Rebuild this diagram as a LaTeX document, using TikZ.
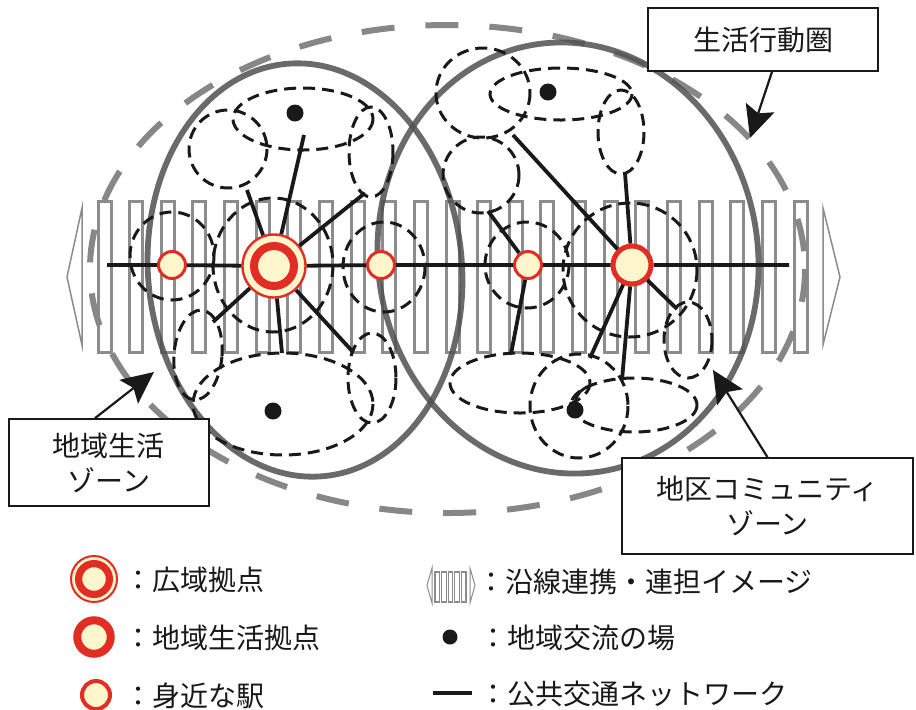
\documentclass[tikz,border=0pt]{standalone}
\usepackage{fontspec}
\setmainfont{Noto Sans CJK JP}
\usetikzlibrary{arrows.meta}
\definecolor{hubred}{RGB}{225,45,35}
\definecolor{cream}{RGB}{255,246,205}
\definecolor{bargray}{RGB}{140,140,140}
\definecolor{zonegray}{RGB}{80,80,80}
\definecolor{spheregray}{RGB}{135,135,135}
\definecolor{ink}{RGB}{25,25,25}

\begin{document}
\begin{tikzpicture}[x=0.5pt, y=-0.5pt,
        every node/.style={font=\fontsize{14pt}{17.5pt}\selectfont, text=ink, inner sep=0pt},
        station/.style={circle, draw=hubred, fill=cream, line width=1.5pt, minimum size=13.5pt},
        localhub/.style={circle, draw=hubred, fill=cream, line width=2.5pt, minimum size=19pt},
        widehub/.style n args={3}{circle, draw=hubred, fill=cream, line width=1.2pt, minimum size=#1,
            path picture={\draw[hubred, line width=#3] (path picture bounding box.center) circle (#2);}},
        spot/.style={circle, fill=ink, minimum size=8.5pt},
        reach/.style={draw=ink, line width=1.5pt, dash pattern=on 6pt off 3.5pt},
        zone/.style={draw=zonegray, draw opacity=0.85, line width=2.9pt},
        sphere/.style={draw=spheregray, line width=3pt, dash pattern=on 16.5pt off 15.5pt},
        net/.style={draw=ink, line width=1.9pt},
        bar/.style={draw=bargray, line width=1.5pt},
        callout/.style={draw=ink, line width=0.8pt, fill=white, align=center},
        pointer/.style={draw=ink, line width=1.1pt, -{Stealth[length=16pt, width=15pt, inset=3pt]}},
        key/.style={anchor=west}
    ]
    \useasboundingbox (0,0) rectangle (916,709);

    % corridor
    \foreach \i in {0,...,22}
        \draw[bar] ({98+31.64*\i},201.5) rectangle ++(13,151);
    \draw[bar, line width=0.75pt] (82,208) -- (67,277) -- (82,345) -- cycle;
    \draw[bar, line width=0.75pt] (823,208) -- (840,277) -- (823,345) -- cycle;

    % zones
    \draw[sphere] (447.5,269) ellipse [x radius=357.5, y radius=244];
    \draw[zone, rotate around={5:(305,270)}] (305,270) ellipse [x radius=157, y radius=207];
    \draw[zone, rotate around={8:(568,258)}] (568,258) ellipse [x radius=190, y radius=216];

    % reach of each place
    \draw[reach] (172,256) ellipse [x radius=42, y radius=44];
    \draw[reach] (273,265) ellipse [x radius=60, y radius=67];
    \draw[reach] (384,267) ellipse [x radius=41, y radius=45];
    \draw[reach] (228,149) ellipse [x radius=39, y radius=39];
    \draw[reach] (303,119) ellipse [x radius=70, y radius=31];
    \draw[reach] (371,152) ellipse [x radius=22, y radius=45];
    \draw[reach, rotate around={-5:(198,355)}] (198,355) ellipse [x radius=24, y radius=45];
    \draw[reach] (283,404) ellipse [x radius=90, y radius=51];
    \draw[reach] (372,378) ellipse [x radius=24, y radius=45];
    \draw[reach] (483,93) ellipse [x radius=47, y radius=45];
    \draw[reach] (481,175) ellipse [x radius=38, y radius=38];
    \draw[reach] (561,94) ellipse [x radius=71, y radius=26];
    \draw[reach] (621,132) ellipse [x radius=23, y radius=42];
    \draw[reach] (527,265) ellipse [x radius=42, y radius=43];
    \draw[reach] (630,270) ellipse [x radius=67, y radius=67];
    \draw[reach] (688,340) ellipse [x radius=24, y radius=38];
    \draw[reach] (520,383) ellipse [x radius=70, y radius=30];
    \draw[reach] (579,406) ellipse [x radius=49, y radius=52];
    \draw[reach] (634,405) ellipse [x radius=63, y radius=27];

    \node[station] at (172,265) (stA) {};
    \node[widehub={31.5pt}{10pt}{4pt}] at (274,266) (wide) {};
    \node[station] at (381,265) (stB) {};
    \node[station] at (528,265) (stC) {};
    \node[localhub] at (632,265) (local) {};

    \node[spot] at (295,113) (spotNW) {};
    \node[spot] at (548,92) (spotNE) {};
    \node[spot] at (273,411) (spotSW) {};
    \node[spot] at (575,410) (spotSE) {};

    \coordinate (railW) at (107,265);
    \coordinate (railE) at (789,265);
    \coordinate (w1) at (247,190);
    \coordinate (w2) at (304,135);
    \coordinate (w3) at (365,193);
    \coordinate (w4) at (213,322);
    \coordinate (w5) at (282,353);
    \coordinate (w6) at (353,352);
    \coordinate (e1) at (488,211);
    \coordinate (e2) at (513,135);
    \coordinate (e3) at (625,173);
    \coordinate (e4) at (677,309);
    \coordinate (e5) at (511,354);
    \coordinate (e6) at (590,358);
    \coordinate (e7) at (622,380);
    \coordinate (e8) at (590,386);

    \draw[net] (railW) -- (stA) -- (wide) -- (stB) -- (stC) -- (local) -- (railE);
    \draw[net] (wide) -- (w1);
    \draw[net] (wide) -- (w2);
    \draw[net] (wide) -- (w3);
    \draw[net] (wide) -- (w4);
    \draw[net] (wide) -- (w5);
    \draw[net] (wide) -- (w6);
    \draw[net] (e1) -- (stC);
    \draw[net] (e2) -- (local);
    \draw[net] (e3) -- (local);
    \draw[net] (local) -- (e4);
    \draw[net] (stC) -- (e5);
    \draw[net] (local) -- (e6);
    \draw[net] (local) -- (e7);
    \draw[net, line width=1.4pt] (spotSE) to[bend left=30] (e8);

    % callouts
    \node[callout, minimum width=115pt, minimum height=31.5pt] at (763,39.5) (sphereTag) {生活行動圏};
    \node[callout, minimum width=100pt, minimum height=43.5pt] at (109,462.5) (lifeTag) {地域生活\\ゾーン};
    \node[callout, minimum width=145.5pt, minimum height=48pt] at (767.5,506) (districtTag) {地区コミュニティ\\ゾーン};
    \coordinate (sphereTip) at (750,138);
    \coordinate (lifeTip) at (154,372);
    \coordinate (districtTip) at (713,370);
    \draw[pointer] ([xshift=4.5pt]sphereTag.south) -- (sphereTip);
    \draw[pointer] ([xshift=-7pt]lifeTag.north) -- (lifeTip);
    \draw[pointer] (districtTag.north) -- (districtTip);

    % legend
    \node[widehub={23pt}{7.7pt}{3.6pt}, line width=1pt] at (94,579) (keyWide) {};
    \node[localhub, minimum size=16.75pt, line width=4pt] at (94,637) (keyLocal) {};
    \node[station, minimum size=14pt, line width=2pt] at (96,695) (keyStation) {};
    \node[key] at (124,580) (keyWideText) {：広域拠点};
    \node[key] at (124,638) (keyLocalText) {：地域生活拠点};
    \node[key] at (124,696) (keyStationText) {：身近な駅};

    \draw[bar, line width=0.5pt] (432,568) -- (427,585.5) -- (432,603) -- cycle;
    \foreach \i in {0,...,4}
        \draw[bar, line width=0.6pt] ({435+6.6*\i},572) rectangle ++(4.6,30);
    \draw[bar, line width=0.5pt] (470,568) -- (475,585.5) -- (470,603) -- cycle;
    \node[spot, minimum size=7.5pt] at (450,637) (keySpot) {};
    \coordinate (keyNetW) at (433,693);
    \coordinate (keyNetE) at (472,693);
    \draw[net, line width=2pt] (keyNetW) -- (keyNetE);
    \node[key] at (477,582) (keyBarText) {：沿線連携・連担イメージ};
    \node[key] at (479,638) (keySpotText) {：地域交流の場};
    \node[key] at (479,694) (keyNetText) {：公共交通ネットワーク};
\end{tikzpicture}
\end{document}
